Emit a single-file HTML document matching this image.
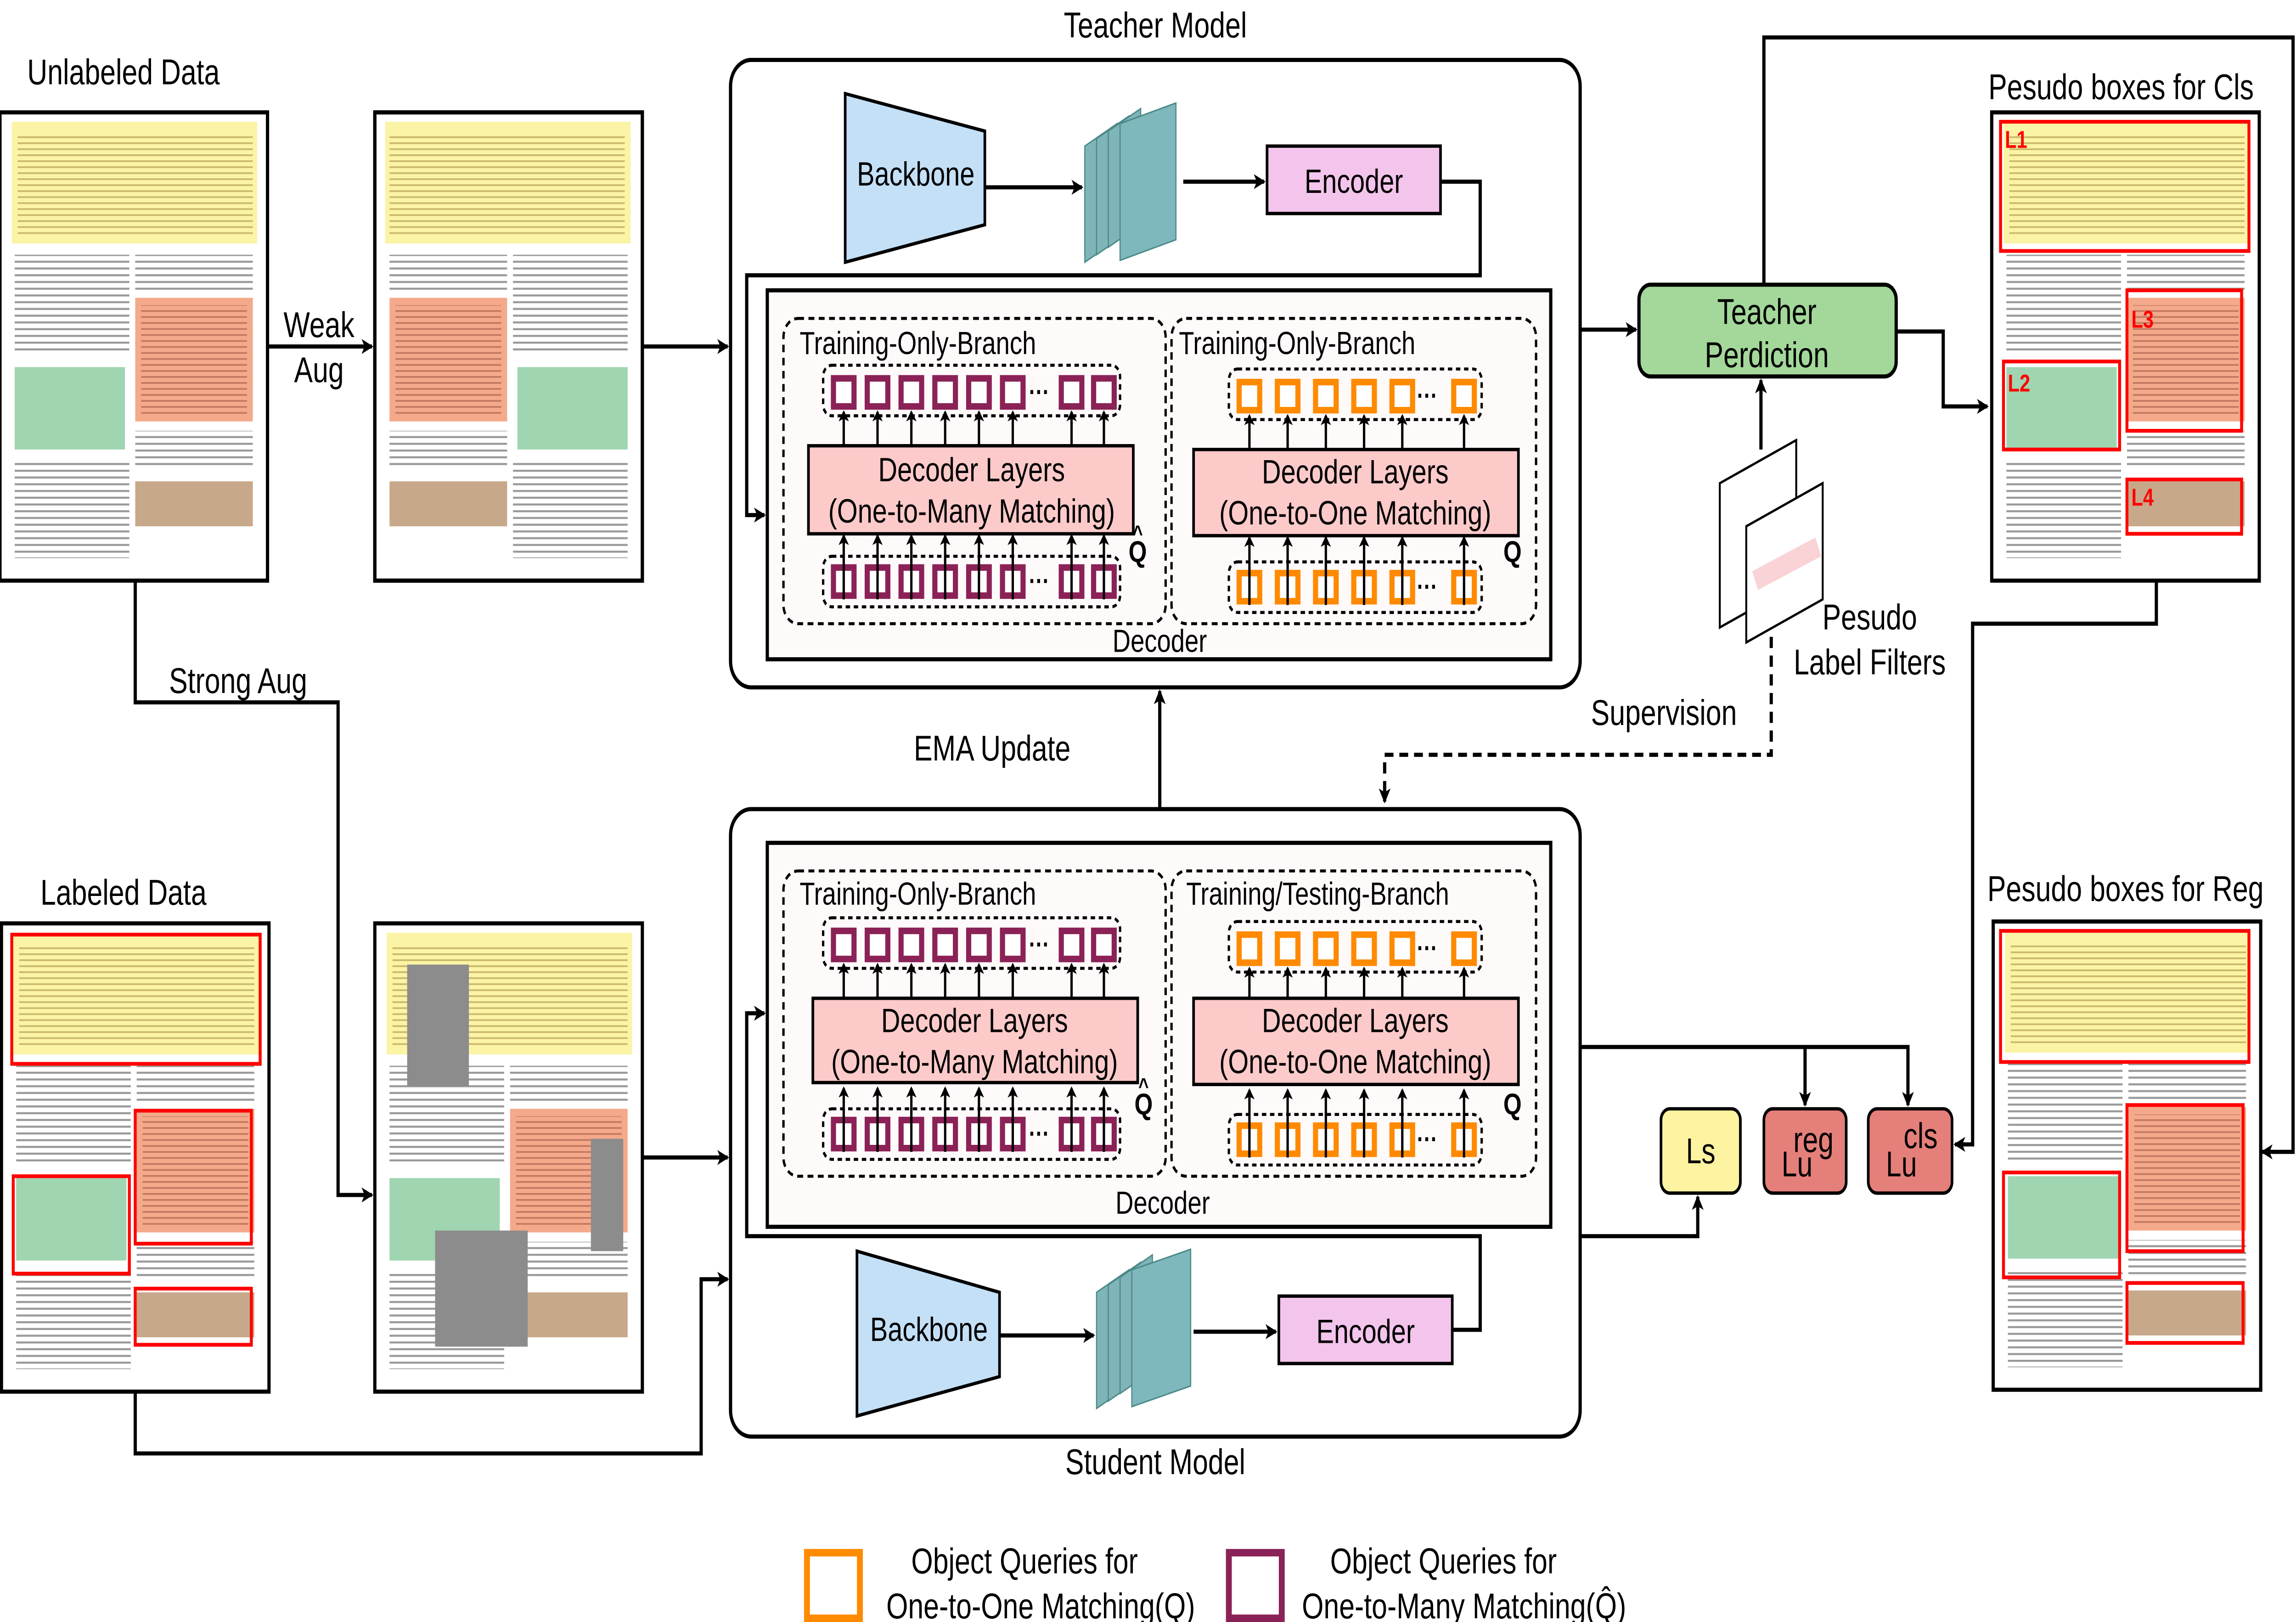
<!DOCTYPE html>
<html><head><meta charset="utf-8">
<style>
html,body{margin:0;padding:0;background:#fff;overflow:hidden;}
svg{display:block;width:100vw;height:100vh;}
text{font-family:"Liberation Sans",sans-serif;fill:#000;}
</style></head>
<body>
<svg xmlns="http://www.w3.org/2000/svg" viewBox="0 0 1562 866" preserveAspectRatio="none">
<defs>
<marker id="ar" markerWidth="8" markerHeight="8" refX="7" refY="4" orient="auto" markerUnits="userSpaceOnUse"><path d="M0,0 L8,4 L0,8 L2,4 z" fill="#000"/></marker>
<marker id="as" markerWidth="6" markerHeight="7" refX="5" refY="3.5" orient="auto" markerUnits="userSpaceOnUse"><path d="M0,0 L6,3.5 L0,7 L1.5,3.5 z" fill="#000"/></marker>
<pattern id="ln" width="10" height="3.6" patternUnits="userSpaceOnUse"><rect x="0" y="0" width="10" height="1.1" fill="#9a9a9a"/></pattern>
<pattern id="ln2" width="10" height="3.2" patternUnits="userSpaceOnUse"><rect x="0" y="0" width="10" height="0.9" fill="#c9b86a"/></pattern>
<pattern id="ln3" width="10" height="3.2" patternUnits="userSpaceOnUse"><rect x="0" y="0" width="10" height="0.9" fill="#c07860"/></pattern>
<g id="doc">
<rect x="0" y="0" width="182" height="250" fill="#fff" stroke="#000" stroke-width="2.2"/>
<rect x="8" y="5" width="167" height="65" fill="#fbf3a6"/>
<rect x="12" y="12" width="160" height="54" fill="url(#ln2)"/>
<rect x="10" y="76" width="78" height="52" fill="url(#ln)"/>
<rect x="92" y="76" width="80" height="20" fill="url(#ln)"/>
<rect x="92" y="99" width="80" height="66" fill="#f4a98a"/>
<rect x="96" y="103" width="72" height="58" fill="url(#ln3)"/>
<rect x="92" y="170" width="80" height="20" fill="url(#ln)"/>
<rect x="10" y="136" width="75" height="44" fill="#9fd5b0"/>
<rect x="10" y="186" width="78" height="52" fill="url(#ln)"/>
<rect x="92" y="197" width="80" height="24" fill="#c8a88a"/>
</g>
</defs>

<text x="84" y="45" font-size="19" text-anchor="middle">Unlabeled Data</text>
<text x="84" y="483" font-size="19" text-anchor="middle">Labeled Data</text>
<text x="786" y="20" font-size="19" text-anchor="middle">Teacher Model</text>
<text x="786" y="787" font-size="19" text-anchor="middle">Student Model</text>
<text x="1443" y="53" font-size="19" text-anchor="middle">Pesudo boxes for Cls</text>
<text x="1446" y="481" font-size="19" text-anchor="middle">Pesudo boxes for Reg</text>
<text x="217" y="180" font-size="19" text-anchor="middle">Weak</text>
<text x="217" y="204" font-size="19" text-anchor="middle">Aug</text>
<text x="162" y="370" font-size="19" text-anchor="middle">Strong Aug</text>
<text x="675" y="406" font-size="19" text-anchor="middle">EMA Update</text>
<text x="1132" y="387" font-size="19" text-anchor="middle">Supervision</text>
<text x="1272" y="336" font-size="19" text-anchor="middle">Pesudo</text>
<text x="1272" y="360" font-size="19" text-anchor="middle">Label Filters</text>

<use href="#doc" x="0" y="60"/>
<g transform="translate(437,60) scale(-1,1)"><use href="#doc"/></g>
<rect x="255" y="60" width="182" height="250" fill="none" stroke="#000" stroke-width="2.2"/>
<use href="#doc" x="1" y="493"/>
<g fill="none" stroke="#f00" stroke-width="2">
<rect x="8" y="499" width="169" height="69"/>
<rect x="92" y="593" width="79" height="71"/>
<rect x="9" y="628" width="79" height="52"/>
<rect x="92" y="688" width="79" height="30"/>
</g>
<use href="#doc" x="255" y="493"/>
<rect x="277" y="515" width="42" height="65" fill="#8c8c8c"/>
<rect x="296" y="657" width="63" height="62" fill="#8c8c8c"/>
<rect x="402" y="608" width="22" height="60" fill="#8c8c8c"/>
<use href="#doc" x="1355" y="60"/>
<g fill="none" stroke="#f00" stroke-width="2">
<rect x="1361" y="65" width="169" height="69"/>
<rect x="1447" y="155" width="78" height="75"/>
<rect x="1363" y="193" width="79" height="47"/>
<rect x="1447" y="256" width="78" height="29"/>
</g>
<g font-weight="bold" font-size="13">
<text x="1364" y="79" style="fill:#f00">L1</text>
<text x="1450" y="175" style="fill:#f00">L3</text>
<text x="1366" y="209" style="fill:#f00">L2</text>
<text x="1450" y="270" style="fill:#f00">L4</text>
</g>
<use href="#doc" x="1356" y="492"/>
<g fill="none" stroke="#f00" stroke-width="2">
<rect x="1361" y="497" width="169" height="70"/>
<rect x="1447" y="590" width="79" height="78"/>
<rect x="1363" y="626" width="79" height="56"/>
<rect x="1447" y="685" width="79" height="32"/>
</g>

<rect x="497" y="32" width="578" height="335" rx="14" fill="#fff" stroke="#000" stroke-width="2.2"/>
<rect x="522" y="155" width="533" height="197" fill="#fffafa" stroke="#000" stroke-width="2.2"/>
<path d="M575,50 L670,70 L670,120 L575,140 Z" fill="#c3e0f7" stroke="#000" stroke-width="1.8"/>
<text x="623" y="99" font-size="18" text-anchor="middle">Backbone</text>
<g stroke="#4d8a8a" stroke-width="0.8" fill="#7fb5b8">
<path d="M738,78 L760,66 L760,128 L738,140 Z"/>
<path d="M746,74 L768,62 L768,124 L746,136 Z"/>
<path d="M754,70 L776,58 L776,120 L754,132 Z"/>
<path d="M762,66 L800,55 L800,128 L762,139 Z" fill="#7fb8bc"/>
</g>
<rect x="862" y="78" width="118" height="36" fill="#f3c4ec" stroke="#000" stroke-width="1.8"/>
<text x="921" y="103" font-size="18" text-anchor="middle">Encoder</text>

<rect x="497" y="432" width="578" height="335" rx="14" fill="#fff" stroke="#000" stroke-width="2.2"/>
<rect x="522" y="450" width="533" height="205" fill="#fffafa" stroke="#000" stroke-width="2.2"/>
<path d="M583,668 L680,690 L680,735 L583,756 Z" fill="#c3e0f7" stroke="#000" stroke-width="1.8"/>
<text x="632" y="716" font-size="18" text-anchor="middle">Backbone</text>
<g stroke="#4d8a8a" stroke-width="0.8" fill="#7fb5b8">
<path d="M746,690 L768,678 L768,740 L746,752 Z"/>
<path d="M754,686 L776,674 L776,736 L754,748 Z"/>
<path d="M762,682 L784,670 L784,732 L762,744 Z"/>
<path d="M770,678 L810,667 L810,740 L770,751 Z" fill="#7fb8bc"/>
</g>
<rect x="870" y="692" width="118" height="36" fill="#f3c4ec" stroke="#000" stroke-width="1.8"/>
<text x="929" y="717" font-size="18" text-anchor="middle">Encoder</text>

<g id="decT">
<rect x="533" y="170" width="260" height="163" rx="10" fill="none" stroke="#000" stroke-width="1.6" stroke-dasharray="4,3"/>
<rect x="797" y="170" width="248" height="163" rx="10" fill="none" stroke="#000" stroke-width="1.6" stroke-dasharray="4,3"/>
<rect x="560" y="195" width="202" height="27" rx="6" fill="none" stroke="#000" stroke-width="1.6" stroke-dasharray="3,2.5"/>
<rect x="560" y="297" width="202" height="27" rx="6" fill="none" stroke="#000" stroke-width="1.6" stroke-dasharray="3,2.5"/>
<rect x="836" y="197" width="172" height="27" rx="6" fill="none" stroke="#000" stroke-width="1.6" stroke-dasharray="3,2.5"/>
<rect x="836" y="300" width="172" height="27" rx="6" fill="none" stroke="#000" stroke-width="1.6" stroke-dasharray="3,2.5"/>
<g fill="#fff" stroke="#8b2257" stroke-width="3.5">
<rect x="567" y="202" width="14" height="15"/><rect x="590" y="202" width="14" height="15"/><rect x="613" y="202" width="14" height="15"/><rect x="636" y="202" width="14" height="15"/><rect x="659" y="202" width="14" height="15"/><rect x="682" y="202" width="14" height="15"/><rect x="722" y="202" width="14" height="15"/><rect x="744" y="202" width="14" height="15"/>
<rect x="567" y="303" width="14" height="15"/><rect x="590" y="303" width="14" height="15"/><rect x="613" y="303" width="14" height="15"/><rect x="636" y="303" width="14" height="15"/><rect x="659" y="303" width="14" height="15"/><rect x="682" y="303" width="14" height="15"/><rect x="722" y="303" width="14" height="15"/><rect x="744" y="303" width="14" height="15"/>
</g>
<g fill="#fff" stroke="#ff8a00" stroke-width="3.5">
<rect x="843" y="204" width="14" height="15"/><rect x="869" y="204" width="14" height="15"/><rect x="895" y="204" width="14" height="15"/><rect x="921" y="204" width="14" height="15"/><rect x="947" y="204" width="14" height="15"/><rect x="989" y="204" width="14" height="15"/>
<rect x="843" y="306" width="14" height="15"/><rect x="869" y="306" width="14" height="15"/><rect x="895" y="306" width="14" height="15"/><rect x="921" y="306" width="14" height="15"/><rect x="947" y="306" width="14" height="15"/><rect x="989" y="306" width="14" height="15"/>
</g>
<g font-size="14" font-weight="bold"><text x="700" y="214">···</text><text x="700" y="315">···</text><text x="964" y="216">···</text><text x="964" y="318">···</text></g>
<g stroke="#000" stroke-width="1.6" marker-end="url(#as)">
<path d="M574,238 V220"/><path d="M597,238 V220"/><path d="M620,238 V220"/><path d="M643,238 V220"/><path d="M666,238 V220"/><path d="M689,238 V220"/><path d="M729,238 V220"/><path d="M751,238 V220"/>
<path d="M574,320 V286"/><path d="M597,320 V286"/><path d="M620,320 V286"/><path d="M643,320 V286"/><path d="M666,320 V286"/><path d="M689,320 V286"/><path d="M729,320 V286"/><path d="M751,320 V286"/>
<path d="M850,240 V222"/><path d="M876,240 V222"/><path d="M902,240 V222"/><path d="M928,240 V222"/><path d="M954,240 V222"/><path d="M996,240 V222"/>
<path d="M850,323 V287"/><path d="M876,323 V287"/><path d="M902,323 V287"/><path d="M928,323 V287"/><path d="M954,323 V287"/><path d="M996,323 V287"/>
</g>
<text x="1029" y="300" font-size="16" font-weight="bold" text-anchor="middle">Q</text>
</g>
<rect x="550" y="238" width="221" height="47" fill="#fdcaca" stroke="#000" stroke-width="1.8"/>
<rect x="812" y="240" width="221" height="46" fill="#fdcaca" stroke="#000" stroke-width="1.8"/>
<text x="661" y="257" font-size="18" text-anchor="middle">Decoder Layers</text>
<text x="661" y="279" font-size="18" text-anchor="middle">(One-to-Many Matching)</text>
<text x="922" y="258" font-size="18" text-anchor="middle">Decoder Layers</text>
<text x="922" y="280" font-size="18" text-anchor="middle">(One-to-One Matching)</text>
<text x="774" y="300" font-size="16" font-weight="bold" text-anchor="middle">Q</text>
<text x="774" y="289" font-size="12" font-weight="bold" text-anchor="middle">^</text>
<text x="544" y="189" font-size="17">Training-Only-Branch</text>
<text x="802" y="189" font-size="17">Training-Only-Branch</text>
<text x="789" y="348" font-size="17" text-anchor="middle">Decoder</text>

<use href="#decT" transform="translate(0,295)"/>
<rect x="553" y="533" width="221" height="45" fill="#fdcaca" stroke="#000" stroke-width="1.8"/>
<rect x="812" y="533" width="221" height="46" fill="#fdcaca" stroke="#000" stroke-width="1.8"/>
<text x="663" y="551" font-size="18" text-anchor="middle">Decoder Layers</text>
<text x="663" y="573" font-size="18" text-anchor="middle">(One-to-Many Matching)</text>
<text x="922" y="551" font-size="18" text-anchor="middle">Decoder Layers</text>
<text x="922" y="573" font-size="18" text-anchor="middle">(One-to-One Matching)</text>
<text x="778" y="595" font-size="16" font-weight="bold" text-anchor="middle">Q</text>
<text x="778" y="584" font-size="12" font-weight="bold" text-anchor="middle">^</text>
<text x="544" y="483" font-size="17">Training-Only-Branch</text>
<text x="807" y="483" font-size="17">Training/Testing-Branch</text>
<text x="791" y="648" font-size="17" text-anchor="middle">Decoder</text>

<rect x="1115" y="152" width="175" height="49" rx="8" fill="#a3d89a" stroke="#000" stroke-width="2.2"/>
<text x="1202" y="173" font-size="19" text-anchor="middle">Teacher</text>
<text x="1202" y="196" font-size="19" text-anchor="middle">Perdiction</text>

<path d="M1170,258 L1222,235 L1222,312 L1170,335 Z" fill="#fff" stroke="#000" stroke-width="1.3"/>
<path d="M1188,282 L1210,274 L1215,283 L1193,291 Z" fill="#fde5cf"/>
<path d="M1188,281 L1240,258 L1240,320 L1188,343 Z" fill="#fff" stroke="#000" stroke-width="1.3"/>
<path d="M1192,305 L1235,287 L1239,297 L1196,315 Z" fill="#f9d3d6"/>

<rect x="1130" y="592" width="54" height="45" rx="6" fill="#fdf3a0" stroke="#000" stroke-width="1.8"/>
<text x="1157" y="621" font-size="19" text-anchor="middle">Ls</text>
<rect x="1200" y="592" width="56" height="45" rx="6" fill="#e57f7a" stroke="#000" stroke-width="1.8"/>
<text x="1212" y="628" font-size="19">Lu</text><text x="1220" y="615" font-size="19">reg</text>
<rect x="1271" y="592" width="57" height="45" rx="6" fill="#e57f7a" stroke="#000" stroke-width="1.8"/>
<text x="1283" y="628" font-size="19">Lu</text><text x="1295" y="613" font-size="19">cls</text>

<rect x="549" y="829" width="36" height="35" fill="none" stroke="#ff8a00" stroke-width="4"/>
<text x="697" y="840" font-size="19" text-anchor="middle">Object Queries for</text>
<text x="708" y="864" font-size="19" text-anchor="middle">One-to-One Matching(Q)</text>
<rect x="836" y="829" width="36" height="35" fill="none" stroke="#8b2257" stroke-width="4"/>
<text x="982" y="840" font-size="19" text-anchor="middle">Object Queries for</text>
<text x="996" y="864" font-size="19" text-anchor="middle">One-to-Many Matching(Q̂)</text>

<g fill="none" stroke="#000" stroke-width="2.2">
<path d="M182,185 H253" marker-end="url(#ar)"/>
<path d="M437,185 H495" marker-end="url(#ar)"/>
<path d="M92,310 V375 H230 V638 H253" marker-end="url(#ar)"/>
<path d="M437,618 H495" marker-end="url(#ar)"/>
<path d="M92,744 V776 H477 V683 H495" marker-end="url(#ar)"/>
<path d="M670,100 H736" marker-end="url(#ar)"/>
<path d="M805,97 H860" marker-end="url(#ar)"/>
<path d="M980,97 H1007 V147 H508 V275 H520" marker-end="url(#ar)"/>
<path d="M680,713 H744" marker-end="url(#ar)"/>
<path d="M812,711 H868" marker-end="url(#ar)"/>
<path d="M988,710 H1007 V660 H508 V541 H520" marker-end="url(#ar)"/>
<path d="M1075,176 H1113" marker-end="url(#ar)"/>
<path d="M1290,177 H1322 V217 H1352" marker-end="url(#ar)"/>
<path d="M1200,152 V20 H1560 V615 H1539" marker-end="url(#ar)"/>
<path d="M1467,310 V333 H1342 V611 H1330" marker-end="url(#ar)"/>
<path d="M1198,240 V203" marker-end="url(#ar)"/>
<path d="M789,432 V369" marker-end="url(#ar)"/>
<path d="M1075,559 H1298 V590" marker-end="url(#ar)"/>
<path d="M1228,559 V590" marker-end="url(#ar)"/>
<path d="M1075,660 H1155 V639" marker-end="url(#ar)"/>
<path d="M1205,340 V403 H942 V428" stroke-dasharray="6,4" marker-end="url(#ar)"/>
</g>
</svg>
</body></html>
